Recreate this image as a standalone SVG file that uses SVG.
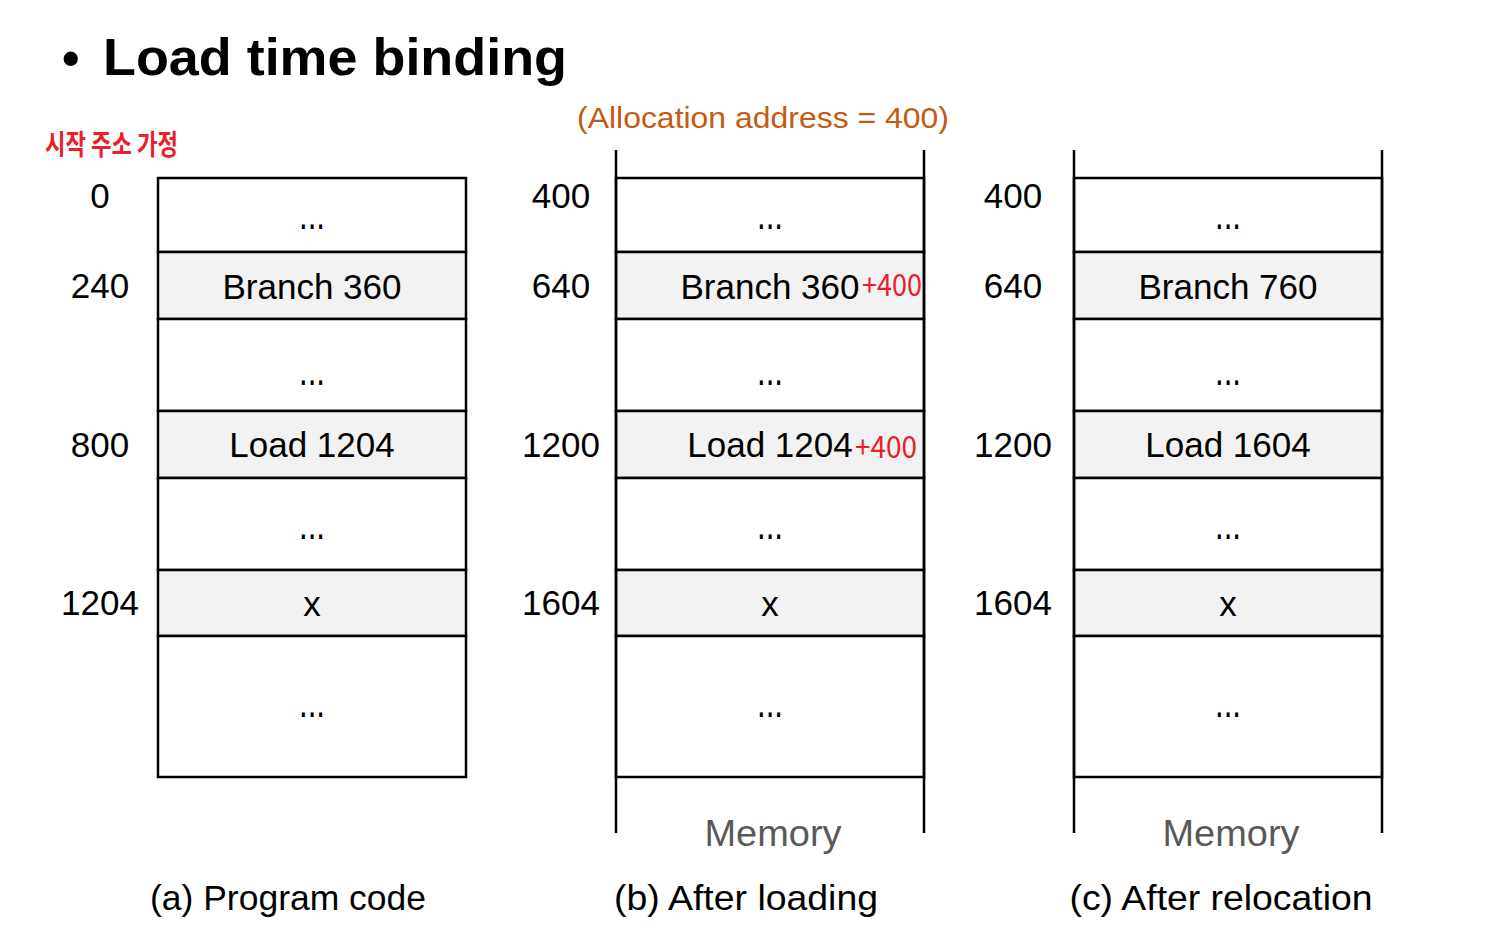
<svg xmlns="http://www.w3.org/2000/svg" width="1497" height="933" viewBox="0 0 1497 933">
<style>
.t{font-family:"Liberation Sans",Arial,sans-serif;font-size:35px;fill:#000;text-anchor:middle}
.d{font-family:"Liberation Sans",Arial,sans-serif;font-size:42px;fill:#000;text-anchor:middle}
.cap{font-family:"Liberation Sans",Arial,sans-serif;font-size:35px;fill:#000;text-anchor:middle}
.mem{font-family:"Liberation Sans",Arial,sans-serif;font-size:36px;fill:#595959;text-anchor:middle}
.red{font-family:"Noto Sans CJK KR","Liberation Sans",sans-serif;fill:#E8202A}
.cell{fill:#fff;stroke:#000;stroke-width:2.5}
.gcell{fill:#F2F2F2;stroke:#000;stroke-width:2.5}
.ln{stroke:#000;stroke-width:2.5;fill:none}
</style>
<rect width="1497" height="933" fill="#fff"/>
<text x="62" y="75" font-family="Liberation Sans,Arial,sans-serif" font-size="50" font-weight="bold">•</text>
<text x="103" y="75" font-family="Liberation Sans,Arial,sans-serif" font-size="52" font-weight="bold" textLength="464" lengthAdjust="spacingAndGlyphs">Load time binding</text>
<text x="763" y="128" font-family="Liberation Sans,Arial,sans-serif" font-size="30" fill="#C55A11" text-anchor="middle" textLength="372" lengthAdjust="spacingAndGlyphs">(Allocation address = 400)</text>
<text class="red" x="45" y="155" font-size="28" font-weight="bold" textLength="133" lengthAdjust="spacingAndGlyphs">시작 주소 가정</text>

<g id="colA">
<rect class="cell" x="158" y="178" width="308" height="74"/>
<rect class="gcell" x="158" y="252" width="308" height="67"/>
<rect class="cell" x="158" y="319" width="308" height="92"/>
<rect class="gcell" x="158" y="411" width="308" height="67"/>
<rect class="cell" x="158" y="478" width="308" height="92"/>
<rect class="gcell" x="158" y="570" width="308" height="66"/>
<rect class="cell" x="158" y="636" width="308" height="141"/>
<text class="d" x="312" y="229" textLength="26" lengthAdjust="spacingAndGlyphs">...</text>
<text class="t" x="312" y="299">Branch 360</text>
<text class="d" x="312" y="385" textLength="26" lengthAdjust="spacingAndGlyphs">...</text>
<text class="t" x="312" y="457">Load 1204</text>
<text class="d" x="312" y="539" textLength="26" lengthAdjust="spacingAndGlyphs">...</text>
<text class="t" x="312" y="616">x</text>
<text class="d" x="312" y="717" textLength="26" lengthAdjust="spacingAndGlyphs">...</text>
<text class="t" x="100" y="208">0</text>
<text class="t" x="100" y="298">240</text>
<text class="t" x="100" y="457">800</text>
<text class="t" x="100" y="615">1204</text>
<text class="cap" x="288" y="910" textLength="276" lengthAdjust="spacingAndGlyphs">(a) Program code</text>
</g>

<g id="colB">
<rect class="cell" x="616" y="178" width="308" height="74"/>
<rect class="gcell" x="616" y="252" width="308" height="67"/>
<rect class="cell" x="616" y="319" width="308" height="92"/>
<rect class="gcell" x="616" y="411" width="308" height="67"/>
<rect class="cell" x="616" y="478" width="308" height="92"/>
<rect class="gcell" x="616" y="570" width="308" height="66"/>
<rect class="cell" x="616" y="636" width="308" height="141"/>
<line class="ln" x1="616" y1="150" x2="616" y2="833"/>
<line class="ln" x1="924" y1="150" x2="924" y2="833"/>
<text class="d" x="770" y="229" textLength="26" lengthAdjust="spacingAndGlyphs">...</text>
<text class="t" x="770" y="299">Branch 360</text>
<text class="red" x="862" y="296" font-size="30" textLength="60" lengthAdjust="spacingAndGlyphs">+400</text>
<text class="d" x="770" y="385" textLength="26" lengthAdjust="spacingAndGlyphs">...</text>
<text class="t" x="770" y="457">Load 1204</text>
<text class="red" x="855" y="458" font-size="30" textLength="62" lengthAdjust="spacingAndGlyphs">+400</text>
<text class="d" x="770" y="539" textLength="26" lengthAdjust="spacingAndGlyphs">...</text>
<text class="t" x="770" y="616">x</text>
<text class="d" x="770" y="717" textLength="26" lengthAdjust="spacingAndGlyphs">...</text>
<text class="t" x="561" y="208">400</text>
<text class="t" x="561" y="298">640</text>
<text class="t" x="561" y="457">1200</text>
<text class="t" x="561" y="615">1604</text>
<text class="mem" x="773" y="846" textLength="137" lengthAdjust="spacingAndGlyphs">Memory</text>
<text class="cap" x="746" y="910" textLength="264" lengthAdjust="spacingAndGlyphs">(b) After loading</text>
</g>

<g id="colC">
<rect class="cell" x="1074" y="178" width="308" height="74"/>
<rect class="gcell" x="1074" y="252" width="308" height="67"/>
<rect class="cell" x="1074" y="319" width="308" height="92"/>
<rect class="gcell" x="1074" y="411" width="308" height="67"/>
<rect class="cell" x="1074" y="478" width="308" height="92"/>
<rect class="gcell" x="1074" y="570" width="308" height="66"/>
<rect class="cell" x="1074" y="636" width="308" height="141"/>
<line class="ln" x1="1074" y1="150" x2="1074" y2="833"/>
<line class="ln" x1="1382" y1="150" x2="1382" y2="833"/>
<text class="d" x="1228" y="229" textLength="26" lengthAdjust="spacingAndGlyphs">...</text>
<text class="t" x="1228" y="299">Branch 760</text>
<text class="d" x="1228" y="385" textLength="26" lengthAdjust="spacingAndGlyphs">...</text>
<text class="t" x="1228" y="457">Load 1604</text>
<text class="d" x="1228" y="539" textLength="26" lengthAdjust="spacingAndGlyphs">...</text>
<text class="t" x="1228" y="616">x</text>
<text class="d" x="1228" y="717" textLength="26" lengthAdjust="spacingAndGlyphs">...</text>
<text class="t" x="1013" y="208">400</text>
<text class="t" x="1013" y="298">640</text>
<text class="t" x="1013" y="457">1200</text>
<text class="t" x="1013" y="615">1604</text>
<text class="mem" x="1231" y="846" textLength="137" lengthAdjust="spacingAndGlyphs">Memory</text>
<text class="cap" x="1221" y="910" textLength="303" lengthAdjust="spacingAndGlyphs">(c) After relocation</text>
</g>
<g id="connectors"></g>
</svg>
